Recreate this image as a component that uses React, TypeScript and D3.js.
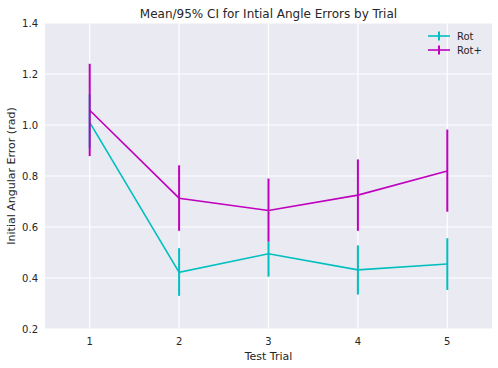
import * as d3 from "d3";
import { useEffect, useRef } from "react";

const trials = [1, 2, 3, 4, 5];
const rotMean = [1.01, 0.422, 0.495, 0.432, 0.455];
const rotLow = [0.91, 0.33, 0.405, 0.335, 0.353];
const rotHigh = [1.12, 0.517, 0.541, 0.528, 0.556];
const rotPlusMean = [1.058, 0.713, 0.665, 0.725, 0.82];
const rotPlusLow = [0.878, 0.585, 0.542, 0.585, 0.66];
const rotPlusHigh = [1.24, 0.842, 0.79, 0.865, 0.982];
const yTicks = [0.2, 0.4, 0.6, 0.8, 1.0, 1.2, 1.4];

const App = () => {
  const ref = useRef<SVGSVGElement>(null);

  useEffect(() => {
    const width = 498,
      height = 368;
    const margin = { top: 23, left: 45, bottom: 39, right: 6 };
    const svg = d3.select(ref.current);
    svg.selectAll("*").remove();
    const font = "'DejaVu Sans', sans-serif";
    const textColor = "#262626";

    const x = d3
      .scaleLinear()
      .domain([0.5, 5.5])
      .range([margin.left, width - margin.right]);
    const y = d3
      .scaleLinear()
      .domain([0.2, 1.4])
      .range([height - margin.bottom, margin.top]);

    svg
      .append("rect")
      .attr("x", margin.left)
      .attr("y", margin.top)
      .attr("width", width - margin.left - margin.right)
      .attr("height", height - margin.bottom - margin.top)
      .attr("fill", "#eaeaf2");

    // grid
    const grid = svg.append("g").attr("stroke", "white").attr("stroke-width", 1.2);
    grid
      .selectAll(".gx")
      .data(trials)
      .join("line")
      .attr("x1", (d) => x(d))
      .attr("x2", (d) => x(d))
      .attr("y1", margin.top)
      .attr("y2", height - margin.bottom);
    grid
      .selectAll(".gy")
      .data(yTicks)
      .join("line")
      .attr("x1", margin.left)
      .attr("x2", width - margin.right)
      .attr("y1", (d) => y(d))
      .attr("y2", (d) => y(d));

    // tick labels
    svg
      .append("g")
      .selectAll("text")
      .data(yTicks)
      .join("text")
      .attr("x", margin.left - 7)
      .attr("y", (d) => y(d))
      .attr("dy", "0.35em")
      .attr("text-anchor", "end")
      .attr("font-family", font)
      .attr("font-size", 10)
      .attr("fill", textColor)
      .text((d) => d3.format(".1f")(d));
    svg
      .append("g")
      .selectAll("text")
      .data(trials)
      .join("text")
      .attr("x", (d) => x(d))
      .attr("y", 345)
      .attr("text-anchor", "middle")
      .attr("font-family", font)
      .attr("font-size", 10)
      .attr("fill", textColor)
      .text((d) => d);

    const series = [
      { name: "Rot", color: "#00bfbf", mean: rotMean, lo: rotLow, hi: rotHigh },
      { name: "Rot+", color: "#bf00bf", mean: rotPlusMean, lo: rotPlusLow, hi: rotPlusHigh },
    ];

    const line = d3
      .line<number>()
      .x((d, i) => x(trials[i]))
      .y((d) => y(d));

    series.forEach((s) => {
      const g = svg.append("g");
      g.append("path")
        .attr("d", line(s.mean))
        .attr("fill", "none")
        .attr("stroke", s.color)
        .attr("stroke-width", 1.6);
      g.selectAll(".err")
        .data(trials)
        .join("line")
        .attr("x1", (d) => x(d))
        .attr("x2", (d) => x(d))
        .attr("y1", (d, i) => y(s.lo[i]))
        .attr("y2", (d, i) => y(s.hi[i]))
        .attr("stroke", s.color)
        .attr("stroke-width", 2);
    });

    // legend
    const legend = svg.append("g");
    series.forEach((s, i) => {
      const ly = 36 + i * 14;
      legend
        .append("line")
        .attr("x1", 428)
        .attr("x2", 450)
        .attr("y1", ly)
        .attr("y2", ly)
        .attr("stroke", s.color)
        .attr("stroke-width", 1.6);
      legend
        .append("line")
        .attr("x1", 439)
        .attr("x2", 439)
        .attr("y1", ly - 4.5)
        .attr("y2", ly + 4.5)
        .attr("stroke", s.color)
        .attr("stroke-width", 2);
      legend
        .append("text")
        .attr("x", 457)
        .attr("y", ly)
        .attr("dy", "0.35em")
        .attr("font-family", font)
        .attr("font-size", 10)
        .attr("fill", textColor)
        .text(s.name);
    });

    svg
      .append("text")
      .attr("x", (margin.left + width - margin.right) / 2)
      .attr("y", 18)
      .attr("text-anchor", "middle")
      .attr("font-family", font)
      .attr("font-size", 12)
      .attr("fill", textColor)
      .text("Mean/95% CI for Intial Angle Errors by Trial");

    svg
      .append("text")
      .attr("x", (margin.left + width - margin.right) / 2)
      .attr("y", 360)
      .attr("text-anchor", "middle")
      .attr("font-family", font)
      .attr("font-size", 11)
      .attr("fill", textColor)
      .text("Test Trial");

    svg
      .append("text")
      .attr(
        "transform",
        "translate(15," + (margin.top + height - margin.bottom) / 2 + ") rotate(-90)"
      )
      .attr("text-anchor", "middle")
      .attr("font-family", font)
      .attr("font-size", 11)
      .attr("fill", textColor)
      .text("Initial Angular Error (rad)");
  }, []);

  return (
    <svg
      ref={ref}
      width={498}
      height={368}
      style={{ position: "absolute", left: 0, top: 0, background: "white" }}
    />
  );
};

export default App;
